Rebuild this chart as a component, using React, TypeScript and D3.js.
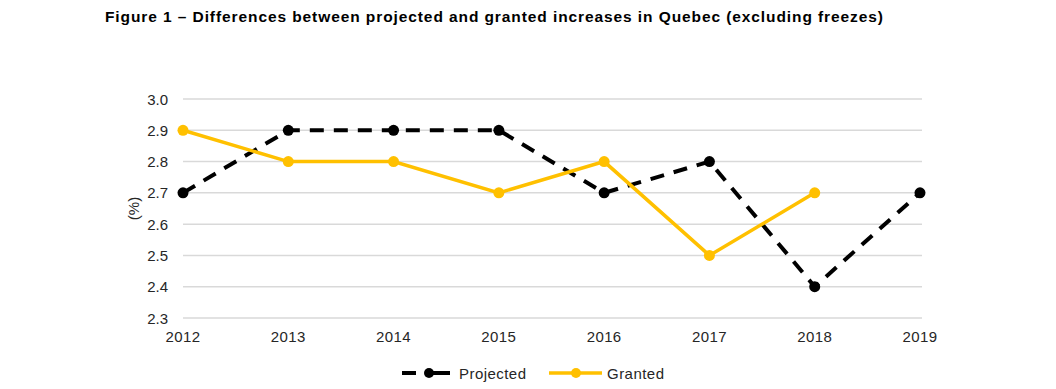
import React, { useEffect, useRef } from 'react'
import * as d3 from 'd3'

const years = ['2012', '2013', '2014', '2015', '2016', '2017', '2018', '2019']
const projected = [2.7, 2.9, 2.9, 2.9, 2.7, 2.8, 2.4, 2.7]
const granted = [2.9, 2.8, 2.8, 2.7, 2.8, 2.5, 2.7]
const yTicks = [2.3, 2.4, 2.5, 2.6, 2.7, 2.8, 2.9, 3.0]

const App = () => {
  const svgRef = useRef<SVGSVGElement>(null)

  useEffect(() => {
    const width = 1056
    const height = 389
    const svg = d3.select(svgRef.current)
    svg.selectAll('*').remove()
    svg.attr('width', width).attr('height', height)

    const font = 'Arial, "Liberation Sans", sans-serif'
    const gold = '#FFC000'
    const textCol = '#262626'

    const x = d3.scalePoint<string>().domain(years).range([183, 920])
    const y = d3.scaleLinear().domain([2.3, 3.0]).range([318, 99])

    svg.append('text')
      .attr('x', 105)
      .attr('y', 22)
      .attr('textLength', 778)
      .attr('lengthAdjust', 'spacing')
      .style('font-family', font)
      .style('font-size', '15.5px')
      .style('font-weight', 'bold')
      .text('Figure 1 – Differences between projected and granted increases in Quebec (excluding freezes)')

    const grid = svg.append('g')
    yTicks.forEach((t) => {
      grid.append('line')
        .attr('x1', 183).attr('x2', 922)
        .attr('y1', y(t)).attr('y2', y(t))
        .attr('stroke', '#d9d9d9').attr('stroke-width', 1.5)
      svg.append('text')
        .attr('x', 168).attr('y', y(t) + 5.5)
        .attr('text-anchor', 'end')
        .style('font-family', font).style('font-size', '15px')
        .style('fill', textCol)
        .text(t.toFixed(1))
    })

    years.forEach((yr) => {
      svg.append('text')
        .attr('x', x(yr)!).attr('y', 342)
        .attr('text-anchor', 'middle')
        .style('font-family', font).style('font-size', '15px')
        .style('letter-spacing', '0.4px')
        .style('fill', textCol)
        .text(yr)
    })

    svg.append('text')
      .attr('transform', `translate(139, ${y(2.65)}) rotate(-90)`)
      .attr('text-anchor', 'middle')
      .style('font-family', font).style('font-size', '15px')
      .style('fill', textCol)
      .text('(%)')

    const line = d3.line<number>()
      .x((d, i) => x(years[i])!)
      .y((d) => y(d))

    svg.append('path')
      .attr('d', line(projected))
      .attr('fill', 'none').attr('stroke', '#000')
      .attr('stroke-width', 4).attr('stroke-dasharray', '14,10')
    svg.append('path')
      .attr('d', line(granted))
      .attr('fill', 'none').attr('stroke', gold)
      .attr('stroke-width', 3.5)

    svg.append('g').selectAll('circle').data(projected).enter().append('circle')
      .attr('cx', (d, i) => x(years[i])!).attr('cy', (d) => y(d))
      .attr('r', 5.5).attr('fill', '#000')
    svg.append('g').selectAll('circle').data(granted).enter().append('circle')
      .attr('cx', (d, i) => x(years[i])!).attr('cy', (d) => y(d))
      .attr('r', 5.5).attr('fill', gold)

    // legend
    const ly = 373
    const leg = svg.append('g')
    leg.append('line').attr('x1', 402).attr('x2', 416).attr('y1', ly).attr('y2', ly)
      .attr('stroke', '#000').attr('stroke-width', 4)
    leg.append('line').attr('x1', 426).attr('x2', 450).attr('y1', ly).attr('y2', ly)
      .attr('stroke', '#000').attr('stroke-width', 4)
    leg.append('circle').attr('cx', 429).attr('cy', ly).attr('r', 5).attr('fill', '#000')
    leg.append('text').attr('x', 459).attr('y', ly + 5.5)
      .attr('textLength', 67).attr('lengthAdjust', 'spacing')
      .style('font-family', font).style('font-size', '15px').style('fill', textCol)
      .text('Projected')
    leg.append('line').attr('x1', 549).attr('x2', 602).attr('y1', ly).attr('y2', ly)
      .attr('stroke', gold).attr('stroke-width', 3.5)
    leg.append('circle').attr('cx', 576).attr('cy', ly).attr('r', 5).attr('fill', gold)
    leg.append('text').attr('x', 607).attr('y', ly + 5.5)
      .attr('textLength', 57).attr('lengthAdjust', 'spacing')
      .style('font-family', font).style('font-size', '15px').style('fill', textCol)
      .text('Granted')
  }, [])

  return <svg ref={svgRef} style={{ position: 'absolute', left: 0, top: 0, display: 'block' }} />
}

export default App
